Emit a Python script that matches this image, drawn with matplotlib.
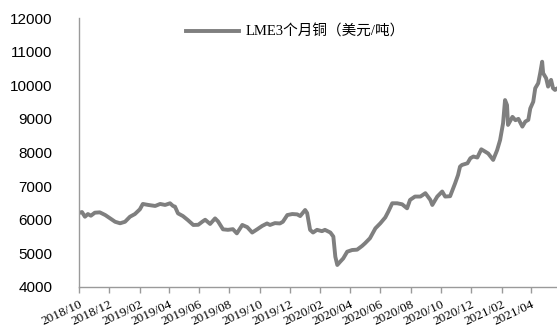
import matplotlib
matplotlib.use("Agg")
import matplotlib.pyplot as plt
import matplotlib.dates as mdates
import pandas as pd

# LME 3-month copper price, USD per tonne
dates = [
    "2018-10-01", "2018-10-07", "2018-10-13", "2018-10-19", "2018-10-25", "2018-11-02",
    "2018-11-12", "2018-11-23", "2018-12-03", "2018-12-13", "2018-12-23", "2019-01-02",
    "2019-01-12", "2019-01-22", "2019-02-01", "2019-02-07", "2019-02-18", "2019-03-04",
    "2019-03-14", "2019-03-24", "2019-04-03", "2019-04-09", "2019-04-13", "2019-04-19",
    "2019-04-29", "2019-05-09", "2019-05-20", "2019-05-30", "2019-06-07", "2019-06-13",
    "2019-06-23", "2019-07-03", "2019-07-09", "2019-07-19", "2019-07-29", "2019-08-08",
    "2019-08-16", "2019-08-27", "2019-09-06", "2019-09-16", "2019-09-26", "2019-10-06",
    "2019-10-16", "2019-10-22", "2019-11-01", "2019-11-11", "2019-11-17", "2019-11-26",
    "2019-12-06", "2019-12-16", "2019-12-22", "2020-01-01", "2020-01-05", "2020-01-11",
    "2020-01-17", "2020-01-25", "2020-02-04", "2020-02-10", "2020-02-21", "2020-02-27",
    "2020-03-02", "2020-03-06", "2020-03-12", "2020-03-18", "2020-03-26", "2020-04-05",
    "2020-04-15", "2020-04-25", "2020-05-01", "2020-05-11", "2020-05-22", "2020-06-01",
    "2020-06-11", "2020-06-17", "2020-06-25", "2020-07-05", "2020-07-15", "2020-07-25",
    "2020-07-31", "2020-08-10", "2020-08-21", "2020-08-31", "2020-09-10", "2020-09-14",
    "2020-09-24", "2020-10-04", "2020-10-10", "2020-10-20", "2020-10-30", "2020-11-05",
    "2020-11-09", "2020-11-13", "2020-11-24", "2020-11-30", "2020-12-06", "2020-12-14",
    "2020-12-22", "2020-12-30", "2021-01-05", "2021-01-15", "2021-01-23", "2021-01-29",
    "2021-02-04", "2021-02-08", "2021-02-12", "2021-02-14", "2021-02-23", "2021-03-01",
    "2021-03-07", "2021-03-15", "2021-03-21", "2021-03-27", "2021-03-31", "2021-04-06",
    "2021-04-10", "2021-04-16", "2021-04-20", "2021-04-24", "2021-04-26", "2021-05-02",
    "2021-05-06", "2021-05-12", "2021-05-16", "2021-05-20", "2021-05-24",
]
copper = [
    6200, 6230, 6090, 6170, 6120, 6210,
    6220, 6140, 6040, 5940, 5895, 5940,
    6090, 6170, 6310, 6470, 6440, 6410,
    6470, 6440, 6490, 6410, 6390, 6190,
    6110, 5990, 5845, 5850, 5940, 6000,
    5875, 6040, 5950, 5715, 5700, 5720,
    5595, 5845, 5780, 5620, 5715, 5815,
    5890, 5845, 5900, 5890, 5940, 6140,
    6170, 6160, 6110, 6290, 6200, 5700,
    5620, 5700, 5660, 5700, 5620, 5500,
    4900, 4655, 4755, 4850, 5050, 5100,
    5110, 5220, 5300, 5450, 5745, 5895,
    6070, 6240, 6490, 6490, 6460, 6340,
    6590, 6690, 6690, 6790, 6590, 6440,
    6690, 6840, 6690, 6700, 7080, 7330,
    7580, 7630, 7680, 7830, 7880, 7850,
    8095, 8025, 7970, 7780, 8070, 8370,
    8870, 9560, 9410, 8820, 9060, 8960,
    9000, 8770, 8920, 8970, 9310, 9510,
    9910, 10060, 10360, 10700, 10360, 10210,
    9960, 10160, 9910, 9860, 9900,
]
series_label = "LME3个月铜（美元/吨）"
y_ticks = [4000, 5000, 6000, 7000, 8000, 9000, 10000, 11000, 12000]

x = pd.to_datetime(dates)

fig = plt.figure(figsize=(5.57, 3.27), dpi=100)
ax = fig.add_axes([79 / 557, 1 - 287 / 327, 1 - 79 / 557, (287 - 18) / 327])

ax.plot(x, copper, color="#7f7f7f", linewidth=2.8, solid_joinstyle="round",
        label=series_label)

ax.set_xlim(pd.Timestamp("2018-10-01"), pd.Timestamp("2021-05-24"))
ax.set_ylim(4000, 12000)
ax.set_yticks(y_ticks)

ax.xaxis.set_major_locator(mdates.MonthLocator(bymonth=[2, 4, 6, 8, 10, 12]))
ax.xaxis.set_major_formatter(mdates.DateFormatter("%Y/%m"))

for side in ("top", "right"):
    ax.spines[side].set_visible(False)
for side in ("left", "bottom"):
    ax.spines[side].set_color("#9a9a9a")
    ax.spines[side].set_linewidth(1.0)

ax.tick_params(axis="y", length=0, pad=19, labelsize=11)
ax.tick_params(axis="x", length=4, width=1, color="#9a9a9a", pad=4)
for lbl in ax.get_yticklabels():
    lbl.set_fontfamily("Liberation Sans")
for lbl in ax.get_xticklabels():
    lbl.set_fontfamily("Liberation Serif")
    lbl.set_fontsize(9.5)
    lbl.set_rotation(25)
    lbl.set_ha("right")
    lbl.set_rotation_mode("anchor")

leg = ax.legend(loc="center left", bbox_to_anchor=(179 / 557, 1 - 32 / 327),
                bbox_transform=fig.transFigure, frameon=False,
                handlelength=3.6, handletextpad=0.45, borderpad=0,
                prop={"family": ["Liberation Serif", "Noto Sans CJK SC"], "size": 10.5})

fig.savefig("out.png", dpi=100)
